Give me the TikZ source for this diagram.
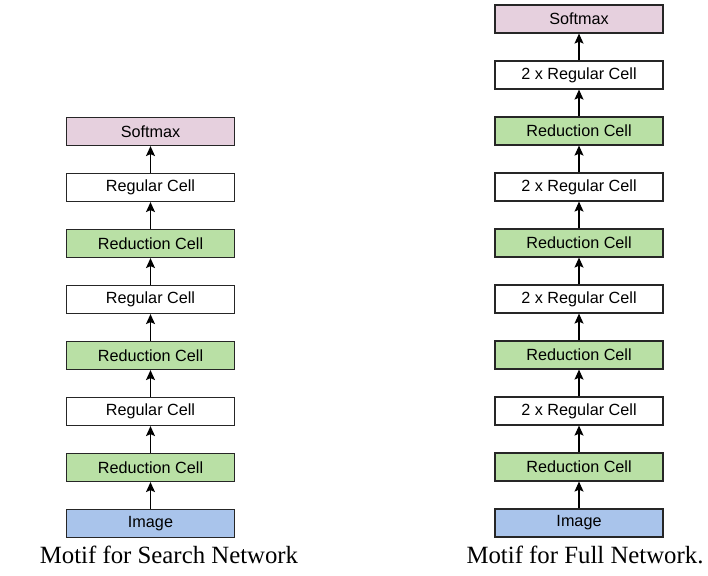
\documentclass[tikz,border=0pt]{standalone}
\usepackage{fontspec}
\setmainfont{Liberation Serif}
\newfontfamily\boxfont{Liberation Sans}
\usetikzlibrary{arrows.meta}
\definecolor{pinkfill}{HTML}{E6D0DE}
\definecolor{greenfill}{HTML}{B9E0A5}
\definecolor{bluefill}{HTML}{A9C4EB}
\tikzset{
  cell/.style={draw=black!85, line width=1.2pt, minimum width=168pt, minimum height=28pt, inner sep=0pt, font=\boxfont\fontsize{16.2}{18}\selectfont},
  regcell/.style={cell, fill=white},
  redcell/.style={cell, fill=greenfill},
  softcell/.style={cell, fill=pinkfill},
  imgcell/.style={cell, fill=bluefill},
  conn/.style={draw=black, line width=1.2pt, -{Stealth[length=10pt,width=9pt,inset=2pt]}},
  caption/.style={inner sep=0pt, font=\fontsize{24.8}{28}\selectfont}
}
\begin{document}
\begin{tikzpicture}[x=1pt,y=-1pt]
\useasboundingbox (0,0) rectangle (708,575);
% Left column
\node[imgcell]  (L0) at (150.5,523.5) {Image};
\node[redcell]  (L1) at (150.5,467.5) {Reduction Cell};
\node[regcell]  (L2) at (150.5,411.5) {Regular Cell};
\node[redcell]  (L3) at (150.5,355.5) {Reduction Cell};
\node[regcell]  (L4) at (150.5,299.5) {Regular Cell};
\node[redcell]  (L5) at (150.5,243.5) {Reduction Cell};
\node[regcell]  (L6) at (150.5,187.5) {Regular Cell};
\node[softcell] (L7) at (150.5,131.5) {Softmax};
\foreach \a/\b in {L0/L1,L1/L2,L2/L3,L3/L4,L4/L5,L5/L6,L6/L7}
  \draw[conn] (\a) -- (\b);
% Right column
\node[imgcell]  (R0) at (579,523) {Image};
\node[redcell]  (R1) at (579,467) {Reduction Cell};
\node[regcell]  (R2) at (579,411) {2 x Regular Cell};
\node[redcell]  (R3) at (579,355) {Reduction Cell};
\node[regcell]  (R4) at (579,299) {2 x Regular Cell};
\node[redcell]  (R5) at (579,243) {Reduction Cell};
\node[regcell]  (R6) at (579,187) {2 x Regular Cell};
\node[redcell]  (R7) at (579,131) {Reduction Cell};
\node[regcell]  (R8) at (579,75) {2 x Regular Cell};
\node[softcell] (R9) at (579,19) {Softmax};
\foreach \a/\b in {R0/R1,R1/R2,R2/R3,R3/R4,R4/R5,R5/R6,R6/R7,R7/R8,R8/R9}
  \draw[conn] (\a) -- (\b);
% Captions
\node[caption, anchor=base] (capL) at (169,563) {Motif for Search Network};
\node[caption, anchor=base] (capR) at (585,563) {Motif for Full Network.};
\end{tikzpicture}
\end{document}
